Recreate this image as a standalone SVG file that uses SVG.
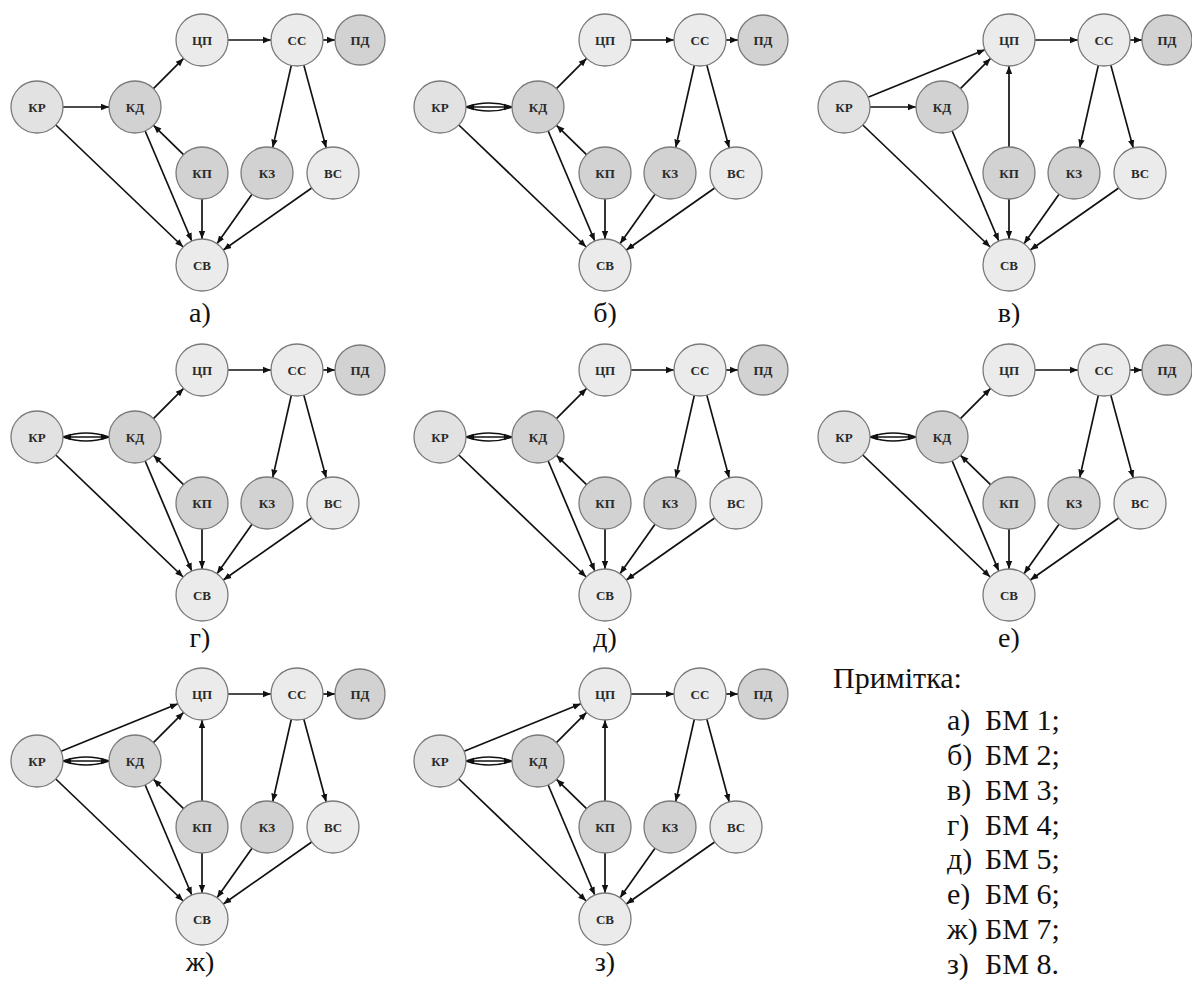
<svg xmlns="http://www.w3.org/2000/svg" width="1192" height="985" viewBox="0 0 1192 985">
<defs>
<style>
.l{fill:#ebebeb;stroke:#7a7a7a;stroke-width:1.3}
.k{fill:#e2e2e2;stroke:#7a7a7a;stroke-width:1.3}
.d{fill:#d2d2d2;stroke:#7a7a7a;stroke-width:1.3}
.t{font-family:'Liberation Serif','DejaVu Serif',serif;font-weight:bold;font-size:13px;fill:#2a2a2a;text-anchor:middle}
.e{stroke:#111;stroke-width:1.7;fill:none;marker-end:url(#ah)}
.b{stroke:#111;stroke-width:1.5;fill:none}
.bm{stroke:#111;stroke-width:1.5;fill:none;marker-end:url(#ah);marker-start:url(#ah)}
.lb{font-family:'Liberation Serif','DejaVu Serif',serif;font-size:28px;fill:#111;text-anchor:middle}
.nt{font-family:'Liberation Serif','DejaVu Serif',serif;font-size:30px;fill:#111}
</style>
<marker id="ah" viewBox="0 0 10 10" refX="10" refY="5" markerWidth="8" markerHeight="8" markerUnits="userSpaceOnUse" orient="auto-start-reverse"><path d="M0,1 L10,5 L0,9 z" fill="#111"/></marker>
</defs>
<rect width="1192" height="985" fill="#fff"/>

<!-- Panel a -->
<g id="panel-a">
<g id="a-edges">
<line class="e" x1="63" y1="107" x2="109" y2="107"/>
<line class="e" x1="153.4" y1="88.6" x2="183.6" y2="58.4"/>
<line class="e" x1="228" y1="40" x2="271" y2="40"/>
<line class="e" x1="323" y1="40" x2="335" y2="40"/>
<line class="e" x1="291.3" y1="65.4" x2="272.7" y2="147.6"/>
<line class="e" x1="303.8" y1="65.1" x2="326.2" y2="147.9"/>
<line class="e" x1="183.5" y1="154.7" x2="153.5" y2="125.3"/>
<line class="e" x1="55.8" y1="125" x2="183.2" y2="247"/>
<line class="e" x1="145.2" y1="131" x2="191.8" y2="241"/>
<line class="e" x1="202" y1="199" x2="202" y2="239"/>
<line class="e" x1="252" y1="194.2" x2="217" y2="243.8"/>
<line class="e" x1="311.7" y1="188" x2="223.3" y2="250"/>
</g>
<g id="a-KR"><circle class="k" cx="37" cy="107" r="26"/><text class="t" x="37" y="111.5">КР</text></g>
<g id="a-KD"><circle class="d" cx="135" cy="107" r="26"/><text class="t" x="135" y="111.5">КД</text></g>
<g id="a-CP"><circle class="l" cx="202" cy="40" r="26"/><text class="t" x="202" y="44.5">ЦП</text></g>
<g id="a-SS"><circle class="l" cx="297" cy="40" r="26"/><text class="t" x="297" y="44.5">СС</text></g>
<g id="a-PD"><circle class="d" cx="360" cy="40" r="25"/><text class="t" x="360" y="44.5">ПД</text></g>
<g id="a-KP"><circle class="d" cx="202" cy="173" r="26"/><text class="t" x="202" y="177.5">КП</text></g>
<g id="a-KZ"><circle class="d" cx="267" cy="173" r="26"/><text class="t" x="267" y="177.5">КЗ</text></g>
<g id="a-VS"><circle class="l" cx="333" cy="173" r="26"/><text class="t" x="333" y="177.5">ВС</text></g>
<g id="a-SV"><circle class="l" cx="202" cy="265" r="26"/><text class="t" x="202" y="269.5">СВ</text></g>
<text class="lb" x="200" y="322">а)</text>
</g>

<!-- Panel b -->
<g id="panel-b" transform="translate(403,0)">
<g id="b-edges">
<path class="b" d="M63,107 Q86,99 109,107"/>
<path class="b" d="M63,107 Q86,115 109,107"/>
<line class="bm" x1="63" y1="107" x2="109" y2="107"/>
<line class="e" x1="153.4" y1="88.6" x2="183.6" y2="58.4"/>
<line class="e" x1="228" y1="40" x2="271" y2="40"/>
<line class="e" x1="323" y1="40" x2="335" y2="40"/>
<line class="e" x1="291.3" y1="65.4" x2="272.7" y2="147.6"/>
<line class="e" x1="303.8" y1="65.1" x2="326.2" y2="147.9"/>
<line class="e" x1="183.5" y1="154.7" x2="153.5" y2="125.3"/>
<line class="e" x1="55.8" y1="125" x2="183.2" y2="247"/>
<line class="e" x1="145.2" y1="131" x2="191.8" y2="241"/>
<line class="e" x1="202" y1="199" x2="202" y2="239"/>
<line class="e" x1="252" y1="194.2" x2="217" y2="243.8"/>
<line class="e" x1="311.7" y1="188" x2="223.3" y2="250"/>
</g>
<g id="b-KR"><circle class="k" cx="37" cy="107" r="26"/><text class="t" x="37" y="111.5">КР</text></g>
<g id="b-KD"><circle class="d" cx="135" cy="107" r="26"/><text class="t" x="135" y="111.5">КД</text></g>
<g id="b-CP"><circle class="l" cx="202" cy="40" r="26"/><text class="t" x="202" y="44.5">ЦП</text></g>
<g id="b-SS"><circle class="l" cx="297" cy="40" r="26"/><text class="t" x="297" y="44.5">СС</text></g>
<g id="b-PD"><circle class="d" cx="360" cy="40" r="25"/><text class="t" x="360" y="44.5">ПД</text></g>
<g id="b-KP"><circle class="d" cx="202" cy="173" r="26"/><text class="t" x="202" y="177.5">КП</text></g>
<g id="b-KZ"><circle class="d" cx="267" cy="173" r="26"/><text class="t" x="267" y="177.5">КЗ</text></g>
<g id="b-VS"><circle class="l" cx="333" cy="173" r="26"/><text class="t" x="333" y="177.5">ВС</text></g>
<g id="b-SV"><circle class="l" cx="202" cy="265" r="26"/><text class="t" x="202" y="269.5">СВ</text></g>
<text class="lb" x="202" y="322">б)</text>
</g>

<!-- Panel c -->
<g id="panel-c" transform="translate(807,0)">
<g id="c-edges">
<line class="e" x1="63" y1="107" x2="109" y2="107"/>
<line class="e" x1="61.1" y1="97.2" x2="177.9" y2="49.8"/>
<line class="e" x1="153.4" y1="88.6" x2="183.6" y2="58.4"/>
<line class="e" x1="202" y1="147" x2="202" y2="66"/>
<line class="e" x1="228" y1="40" x2="271" y2="40"/>
<line class="e" x1="323" y1="40" x2="335" y2="40"/>
<line class="e" x1="291.3" y1="65.4" x2="272.7" y2="147.6"/>
<line class="e" x1="303.8" y1="65.1" x2="326.2" y2="147.9"/>
<line class="e" x1="55.8" y1="125" x2="183.2" y2="247"/>
<line class="e" x1="145.2" y1="131" x2="191.8" y2="241"/>
<line class="e" x1="202" y1="199" x2="202" y2="239"/>
<line class="e" x1="252" y1="194.2" x2="217" y2="243.8"/>
<line class="e" x1="311.7" y1="188" x2="223.3" y2="250"/>
</g>
<g id="c-KR"><circle class="k" cx="37" cy="107" r="26"/><text class="t" x="37" y="111.5">КР</text></g>
<g id="c-KD"><circle class="d" cx="135" cy="107" r="26"/><text class="t" x="135" y="111.5">КД</text></g>
<g id="c-CP"><circle class="l" cx="202" cy="40" r="26"/><text class="t" x="202" y="44.5">ЦП</text></g>
<g id="c-SS"><circle class="l" cx="297" cy="40" r="26"/><text class="t" x="297" y="44.5">СС</text></g>
<g id="c-PD"><circle class="d" cx="360" cy="40" r="25"/><text class="t" x="360" y="44.5">ПД</text></g>
<g id="c-KP"><circle class="d" cx="202" cy="173" r="26"/><text class="t" x="202" y="177.5">КП</text></g>
<g id="c-KZ"><circle class="d" cx="267" cy="173" r="26"/><text class="t" x="267" y="177.5">КЗ</text></g>
<g id="c-VS"><circle class="l" cx="333" cy="173" r="26"/><text class="t" x="333" y="177.5">ВС</text></g>
<g id="c-SV"><circle class="l" cx="202" cy="265" r="26"/><text class="t" x="202" y="269.5">СВ</text></g>
<text class="lb" x="202" y="322">в)</text>
</g>

<!-- Panel d (г) -->
<g id="panel-d" transform="translate(0,330)">
<g id="d-edges">
<path class="b" d="M63,107 Q86,99 109,107"/>
<path class="b" d="M63,107 Q86,115 109,107"/>
<line class="bm" x1="63" y1="107" x2="109" y2="107"/>
<line class="e" x1="153.4" y1="88.6" x2="183.6" y2="58.4"/>
<line class="e" x1="228" y1="40" x2="271" y2="40"/>
<line class="e" x1="323" y1="40" x2="335" y2="40"/>
<line class="e" x1="291.3" y1="65.4" x2="272.7" y2="147.6"/>
<line class="e" x1="303.8" y1="65.1" x2="326.2" y2="147.9"/>
<line class="e" x1="183.5" y1="154.7" x2="153.5" y2="125.3"/>
<line class="e" x1="55.8" y1="125" x2="183.2" y2="247"/>
<line class="e" x1="145.2" y1="131" x2="191.8" y2="241"/>
<line class="e" x1="202" y1="199" x2="202" y2="239"/>
<line class="e" x1="252" y1="194.2" x2="217" y2="243.8"/>
<line class="e" x1="311.7" y1="188" x2="223.3" y2="250"/>
</g>
<g id="d-KR"><circle class="k" cx="37" cy="107" r="26"/><text class="t" x="37" y="111.5">КР</text></g>
<g id="d-KD"><circle class="d" cx="135" cy="107" r="26"/><text class="t" x="135" y="111.5">КД</text></g>
<g id="d-CP"><circle class="l" cx="202" cy="40" r="26"/><text class="t" x="202" y="44.5">ЦП</text></g>
<g id="d-SS"><circle class="l" cx="297" cy="40" r="26"/><text class="t" x="297" y="44.5">СС</text></g>
<g id="d-PD"><circle class="d" cx="360" cy="40" r="25"/><text class="t" x="360" y="44.5">ПД</text></g>
<g id="d-KP"><circle class="d" cx="202" cy="173" r="26"/><text class="t" x="202" y="177.5">КП</text></g>
<g id="d-KZ"><circle class="d" cx="267" cy="173" r="26"/><text class="t" x="267" y="177.5">КЗ</text></g>
<g id="d-VS"><circle class="l" cx="333" cy="173" r="26"/><text class="t" x="333" y="177.5">ВС</text></g>
<g id="d-SV"><circle class="l" cx="202" cy="265" r="26"/><text class="t" x="202" y="269.5">СВ</text></g>
<text class="lb" x="200" y="317">г)</text>
</g>

<!-- Panel e (д) -->
<g id="panel-e" transform="translate(403,330)">
<g id="e-edges">
<path class="b" d="M63,107 Q86,99 109,107"/>
<path class="b" d="M63,107 Q86,115 109,107"/>
<line class="bm" x1="63" y1="107" x2="109" y2="107"/>
<line class="e" x1="153.4" y1="88.6" x2="183.6" y2="58.4"/>
<line class="e" x1="228" y1="40" x2="271" y2="40"/>
<line class="e" x1="323" y1="40" x2="335" y2="40"/>
<line class="e" x1="291.3" y1="65.4" x2="272.7" y2="147.6"/>
<line class="e" x1="303.8" y1="65.1" x2="326.2" y2="147.9"/>
<line class="e" x1="183.5" y1="154.7" x2="153.5" y2="125.3"/>
<line class="e" x1="55.8" y1="125" x2="183.2" y2="247"/>
<line class="e" x1="145.2" y1="131" x2="191.8" y2="241"/>
<line class="e" x1="202" y1="199" x2="202" y2="239"/>
<line class="e" x1="252" y1="194.2" x2="217" y2="243.8"/>
<line class="e" x1="311.7" y1="188" x2="223.3" y2="250"/>
</g>
<g id="e-KR"><circle class="k" cx="37" cy="107" r="26"/><text class="t" x="37" y="111.5">КР</text></g>
<g id="e-KD"><circle class="d" cx="135" cy="107" r="26"/><text class="t" x="135" y="111.5">КД</text></g>
<g id="e-CP"><circle class="l" cx="202" cy="40" r="26"/><text class="t" x="202" y="44.5">ЦП</text></g>
<g id="e-SS"><circle class="l" cx="297" cy="40" r="26"/><text class="t" x="297" y="44.5">СС</text></g>
<g id="e-PD"><circle class="d" cx="360" cy="40" r="25"/><text class="t" x="360" y="44.5">ПД</text></g>
<g id="e-KP"><circle class="d" cx="202" cy="173" r="26"/><text class="t" x="202" y="177.5">КП</text></g>
<g id="e-KZ"><circle class="d" cx="267" cy="173" r="26"/><text class="t" x="267" y="177.5">КЗ</text></g>
<g id="e-VS"><circle class="l" cx="333" cy="173" r="26"/><text class="t" x="333" y="177.5">ВС</text></g>
<g id="e-SV"><circle class="l" cx="202" cy="265" r="26"/><text class="t" x="202" y="269.5">СВ</text></g>
<text class="lb" x="202" y="317">д)</text>
</g>

<!-- Panel f (е) -->
<g id="panel-f" transform="translate(807,330)">
<g id="f-edges">
<path class="b" d="M63,107 Q86,99 109,107"/>
<path class="b" d="M63,107 Q86,115 109,107"/>
<line class="bm" x1="63" y1="107" x2="109" y2="107"/>
<line class="e" x1="153.4" y1="88.6" x2="183.6" y2="58.4"/>
<line class="e" x1="228" y1="40" x2="271" y2="40"/>
<line class="e" x1="323" y1="40" x2="335" y2="40"/>
<line class="e" x1="291.3" y1="65.4" x2="272.7" y2="147.6"/>
<line class="e" x1="303.8" y1="65.1" x2="326.2" y2="147.9"/>
<line class="e" x1="183.5" y1="154.7" x2="153.5" y2="125.3"/>
<line class="e" x1="55.8" y1="125" x2="183.2" y2="247"/>
<line class="e" x1="145.2" y1="131" x2="191.8" y2="241"/>
<line class="e" x1="202" y1="199" x2="202" y2="239"/>
<line class="e" x1="252" y1="194.2" x2="217" y2="243.8"/>
<line class="e" x1="311.7" y1="188" x2="223.3" y2="250"/>
</g>
<g id="f-KR"><circle class="k" cx="37" cy="107" r="26"/><text class="t" x="37" y="111.5">КР</text></g>
<g id="f-KD"><circle class="d" cx="135" cy="107" r="26"/><text class="t" x="135" y="111.5">КД</text></g>
<g id="f-CP"><circle class="l" cx="202" cy="40" r="26"/><text class="t" x="202" y="44.5">ЦП</text></g>
<g id="f-SS"><circle class="l" cx="297" cy="40" r="26"/><text class="t" x="297" y="44.5">СС</text></g>
<g id="f-PD"><circle class="d" cx="360" cy="40" r="25"/><text class="t" x="360" y="44.5">ПД</text></g>
<g id="f-KP"><circle class="d" cx="202" cy="173" r="26"/><text class="t" x="202" y="177.5">КП</text></g>
<g id="f-KZ"><circle class="d" cx="267" cy="173" r="26"/><text class="t" x="267" y="177.5">КЗ</text></g>
<g id="f-VS"><circle class="l" cx="333" cy="173" r="26"/><text class="t" x="333" y="177.5">ВС</text></g>
<g id="f-SV"><circle class="l" cx="202" cy="265" r="26"/><text class="t" x="202" y="269.5">СВ</text></g>
<text class="lb" x="202" y="317">е)</text>
</g>

<!-- Panel g (ж) -->
<g id="panel-g" transform="translate(0,654)">
<g id="g-edges">
<path class="b" d="M63,107 Q86,99 109,107"/>
<path class="b" d="M63,107 Q86,115 109,107"/>
<line class="bm" x1="63" y1="107" x2="109" y2="107"/>
<line class="e" x1="61.1" y1="97.2" x2="177.9" y2="49.8"/>
<line class="e" x1="153.4" y1="88.6" x2="183.6" y2="58.4"/>
<line class="e" x1="202" y1="147" x2="202" y2="66"/>
<line class="e" x1="228" y1="40" x2="271" y2="40"/>
<line class="e" x1="323" y1="40" x2="335" y2="40"/>
<line class="e" x1="291.3" y1="65.4" x2="272.7" y2="147.6"/>
<line class="e" x1="303.8" y1="65.1" x2="326.2" y2="147.9"/>
<line class="e" x1="183.5" y1="154.7" x2="153.5" y2="125.3"/>
<line class="e" x1="55.8" y1="125" x2="183.2" y2="247"/>
<line class="e" x1="145.2" y1="131" x2="191.8" y2="241"/>
<line class="e" x1="202" y1="199" x2="202" y2="239"/>
<line class="e" x1="252" y1="194.2" x2="217" y2="243.8"/>
<line class="e" x1="311.7" y1="188" x2="223.3" y2="250"/>
</g>
<g id="g-KR"><circle class="k" cx="37" cy="107" r="26"/><text class="t" x="37" y="111.5">КР</text></g>
<g id="g-KD"><circle class="d" cx="135" cy="107" r="26"/><text class="t" x="135" y="111.5">КД</text></g>
<g id="g-CP"><circle class="l" cx="202" cy="40" r="26"/><text class="t" x="202" y="44.5">ЦП</text></g>
<g id="g-SS"><circle class="l" cx="297" cy="40" r="26"/><text class="t" x="297" y="44.5">СС</text></g>
<g id="g-PD"><circle class="d" cx="360" cy="40" r="25"/><text class="t" x="360" y="44.5">ПД</text></g>
<g id="g-KP"><circle class="d" cx="202" cy="173" r="26"/><text class="t" x="202" y="177.5">КП</text></g>
<g id="g-KZ"><circle class="d" cx="267" cy="173" r="26"/><text class="t" x="267" y="177.5">КЗ</text></g>
<g id="g-VS"><circle class="l" cx="333" cy="173" r="26"/><text class="t" x="333" y="177.5">ВС</text></g>
<g id="g-SV"><circle class="l" cx="202" cy="265" r="26"/><text class="t" x="202" y="269.5">СВ</text></g>
<text class="lb" x="200" y="317">ж)</text>
</g>

<!-- Panel h (з) -->
<g id="panel-h" transform="translate(403,654)">
<g id="h-edges">
<path class="b" d="M63,107 Q86,99 109,107"/>
<path class="b" d="M63,107 Q86,115 109,107"/>
<line class="bm" x1="63" y1="107" x2="109" y2="107"/>
<line class="e" x1="61.1" y1="97.2" x2="177.9" y2="49.8"/>
<line class="e" x1="153.4" y1="88.6" x2="183.6" y2="58.4"/>
<line class="e" x1="202" y1="147" x2="202" y2="66"/>
<line class="e" x1="228" y1="40" x2="271" y2="40"/>
<line class="e" x1="323" y1="40" x2="335" y2="40"/>
<line class="e" x1="291.3" y1="65.4" x2="272.7" y2="147.6"/>
<line class="e" x1="303.8" y1="65.1" x2="326.2" y2="147.9"/>
<line class="e" x1="183.5" y1="154.7" x2="153.5" y2="125.3"/>
<line class="e" x1="55.8" y1="125" x2="183.2" y2="247"/>
<line class="e" x1="145.2" y1="131" x2="191.8" y2="241"/>
<line class="e" x1="202" y1="199" x2="202" y2="239"/>
<line class="e" x1="252" y1="194.2" x2="217" y2="243.8"/>
<line class="e" x1="311.7" y1="188" x2="223.3" y2="250"/>
</g>
<g id="h-KR"><circle class="k" cx="37" cy="107" r="26"/><text class="t" x="37" y="111.5">КР</text></g>
<g id="h-KD"><circle class="d" cx="135" cy="107" r="26"/><text class="t" x="135" y="111.5">КД</text></g>
<g id="h-CP"><circle class="l" cx="202" cy="40" r="26"/><text class="t" x="202" y="44.5">ЦП</text></g>
<g id="h-SS"><circle class="l" cx="297" cy="40" r="26"/><text class="t" x="297" y="44.5">СС</text></g>
<g id="h-PD"><circle class="d" cx="360" cy="40" r="25"/><text class="t" x="360" y="44.5">ПД</text></g>
<g id="h-KP"><circle class="d" cx="202" cy="173" r="26"/><text class="t" x="202" y="177.5">КП</text></g>
<g id="h-KZ"><circle class="d" cx="267" cy="173" r="26"/><text class="t" x="267" y="177.5">КЗ</text></g>
<g id="h-VS"><circle class="l" cx="333" cy="173" r="26"/><text class="t" x="333" y="177.5">ВС</text></g>
<g id="h-SV"><circle class="l" cx="202" cy="265" r="26"/><text class="t" x="202" y="269.5">СВ</text></g>
<text class="lb" x="202" y="317">з)</text>
</g>

<!-- Note -->
<g id="note">
<text class="nt" x="833" y="688">Примітка:</text>
<text class="nt" x="947" y="730">а)</text><text class="nt" x="985" y="730">БМ 1;</text>
<text class="nt" x="947" y="765">б)</text><text class="nt" x="985" y="765">БМ 2;</text>
<text class="nt" x="947" y="800">в)</text><text class="nt" x="985" y="800">БМ 3;</text>
<text class="nt" x="947" y="835">г)</text><text class="nt" x="985" y="835">БМ 4;</text>
<text class="nt" x="947" y="869">д)</text><text class="nt" x="985" y="869">БМ 5;</text>
<text class="nt" x="947" y="904">е)</text><text class="nt" x="985" y="904">БМ 6;</text>
<text class="nt" x="947" y="939">ж)</text><text class="nt" x="985" y="939">БМ 7;</text>
<text class="nt" x="947" y="974">з)</text><text class="nt" x="985" y="974">БМ 8.</text>
</g>
</svg>
